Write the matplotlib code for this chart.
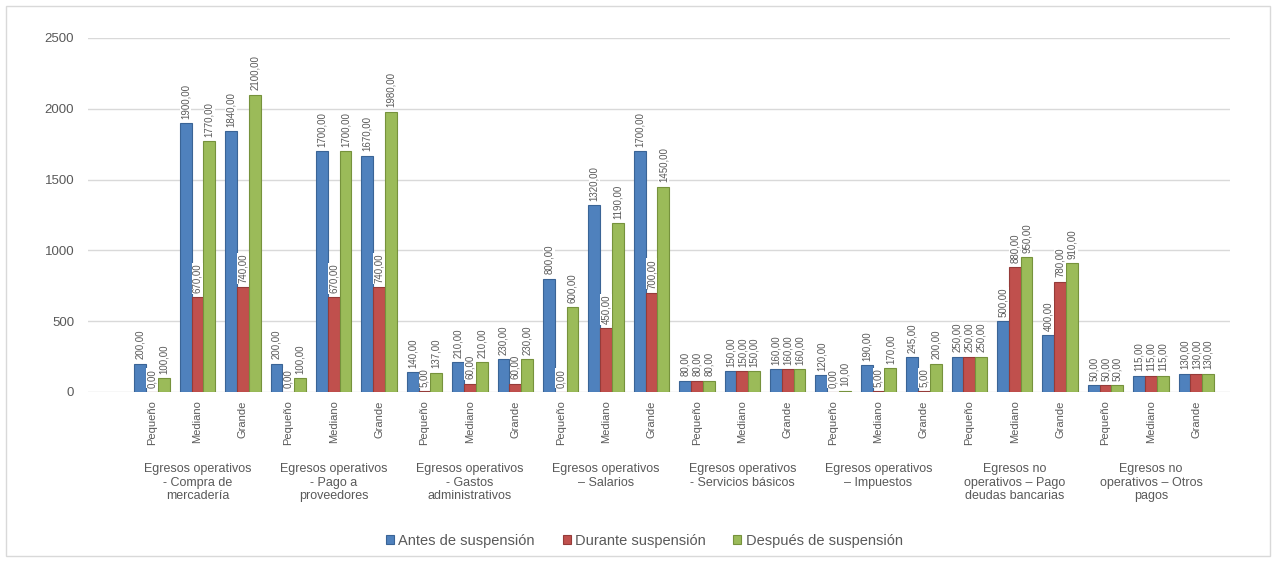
import numpy as np
import matplotlib.pyplot as plt
from matplotlib.patches import Rectangle

plt.rcParams['font.family'] = ['Liberation Sans', 'DejaVu Sans']

grupos = ["Egresos operativos\n- Compra de\nmercadería",
          "Egresos operativos\n- Pago a\nproveedores",
          "Egresos operativos\n- Gastos\nadministrativos",
          "Egresos operativos\n– Salarios",
          "Egresos operativos\n- Servicios básicos",
          "Egresos operativos\n– Impuestos",
          "Egresos no\noperativos – Pago\ndeudas bancarias",
          "Egresos no\noperativos – Otros\npagos"]
tamanos = ["Pequeño", "Mediano", "Grande"]

antes = [200, 1900, 1840, 200, 1700, 1670, 140, 210, 230, 800, 1320, 1700,
         80, 150, 160, 120, 190, 245, 250, 500, 400, 50, 115, 130]
durante = [0, 670, 740, 0, 670, 740, 5, 60, 60, 0, 450, 700,
           80, 150, 160, 0, 5, 5, 250, 880, 780, 50, 115, 130]
despues = [100, 1770, 2100, 100, 1700, 1980, 137, 210, 230, 600, 1190, 1450,
           80, 150, 160, 10, 170, 200, 250, 950, 910, 50, 115, 130]

series = [("Antes de suspensión", antes, "#4F81BD", "#3A6496"),
          ("Durante suspensión", durante, "#C0504D", "#953B39"),
          ("Después de suspensión", despues, "#9BBB59", "#76923C")]

gris = "#595959"
fig = plt.figure(figsize=(12.76, 5.62), dpi=100)
ax = fig.add_axes([88 / 1276, 1 - 392 / 562, (1230 - 88) / 1276, 354 / 562])

x = np.arange(len(antes))
w = 0.26
for k, (nombre, vals, color, borde) in enumerate(series):
    pos = x + (k - 1) * w
    ax.bar(pos, vals, w, color=color, edgecolor=borde, linewidth=0.8,
           label=nombre, zorder=3)
    for px, v in zip(pos, vals):
        etiqueta = f"{v:.2f}".replace(".", ",")
        ax.text(px, v + 30, etiqueta, rotation=90, ha="center", va="bottom",
                fontsize=7, color=gris, zorder=4,
                bbox=dict(facecolor="white", edgecolor="none", pad=0.5))

ax.set_xlim(-1.41, 23.74)
ax.set_ylim(0, 2500)
ax.set_yticks(range(0, 2501, 500))
ax.yaxis.grid(True, color="#D9D9D9", linewidth=1, zorder=0)
ax.set_axisbelow(True)
for s in ax.spines.values():
    s.set_visible(False)
ax.tick_params(axis="y", length=0, pad=10, labelsize=9.5, labelcolor=gris)
ax.set_xticks(x)
ax.set_xticklabels(tamanos * len(grupos), rotation=90, fontsize=8,
                   color=gris)
ax.tick_params(axis="x", length=0, pad=6)

for g, nombre in enumerate(grupos):
    ax.text(3 * g + 1, -0.2, nombre, transform=ax.get_xaxis_transform(),
            ha="center", va="top", fontsize=9, color=gris, linespacing=1.2)

fig.legend(loc="center", bbox_to_anchor=(0.505, 1 - 541 / 562), ncol=3,
           frameon=False, fontsize=10.5, handlelength=0.55, handleheight=0.55,
           handletextpad=0.3, columnspacing=1.9, labelcolor=gris)

fig.patches.append(Rectangle((6 / 1276, 6 / 562), 1264 / 1276, 550 / 562,
                             transform=fig.transFigure, fill=False,
                             edgecolor="#D9D9D9", linewidth=1))

fig.savefig("out.png", dpi=100)
